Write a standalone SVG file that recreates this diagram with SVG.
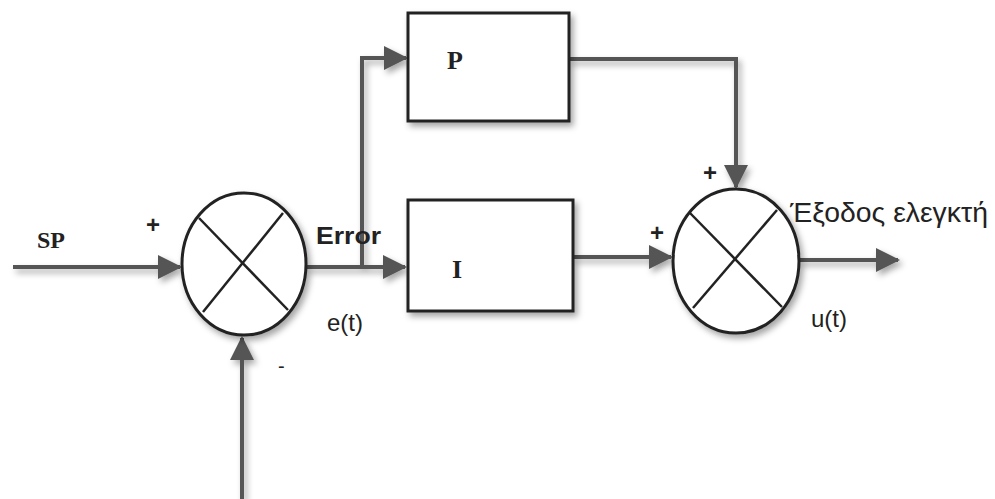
<svg xmlns="http://www.w3.org/2000/svg" width="995" height="499" viewBox="0 0 995 499">
<style>
.wire{fill:none;stroke:#555;stroke-width:4}
.box{fill:#fff;stroke:#222;stroke-width:3}
.sum{fill:#fff;stroke:#222;stroke-width:3}
.x{stroke:#222;stroke-width:2.5}
.lbl{font-family:"Liberation Serif",serif;font-weight:bold;fill:#222}
.txt{font-family:"Liberation Sans",Arial,sans-serif;fill:#222}
</style>
<defs>
<marker id="ah" markerWidth="6" markerHeight="6" refX="5.5" refY="3" orient="auto" markerUnits="strokeWidth">
<path d="M0,0 L6,3 L0,6 Z" fill="#555"/>
</marker>
<filter id="sh" x="-10%" y="-10%" width="130%" height="130%">
<feDropShadow dx="3" dy="4" stdDeviation="3" flood-color="#000" flood-opacity="0.35"/>
</filter>
</defs>
<rect width="995" height="499" fill="#fff"/>
<g id="connectors" filter="url(#sh)">
<path class="wire" d="M13,267 L180,267" marker-end="url(#ah)"/>
<path class="wire" d="M306,267 L405,267" marker-end="url(#ah)"/>
<path class="wire" d="M362,267 L362,58 L406,58" marker-end="url(#ah)"/>
<path class="wire" d="M569,59 L736,59 L736,187" marker-end="url(#ah)"/>
<path class="wire" d="M573,257 L671,257" marker-end="url(#ah)"/>
<path class="wire" d="M799,260 L898,260" marker-end="url(#ah)"/>
<path class="wire" d="M242,499 L242,338" marker-end="url(#ah)"/>
</g>
<g id="sum1">
<ellipse class="sum" cx="244" cy="264" rx="62" ry="71" filter="url(#sh)"/>
<line class="x" x1="199" y1="218" x2="288" y2="310"/>
<line class="x" x1="283" y1="213" x2="203" y2="312"/>
</g>
<g id="P">
<rect class="box" x="408" y="13" width="161" height="108" filter="url(#sh)"/>
<text class="lbl" x="447" y="69" font-size="26">P</text>
</g>
<g id="I">
<rect class="box" x="408" y="200" width="165" height="111" filter="url(#sh)"/>
<text class="lbl" x="452" y="278" font-size="26">I</text>
</g>
<g id="sum2">
<ellipse class="sum" cx="736" cy="261" rx="63" ry="72" filter="url(#sh)"/>
<line class="x" x1="690" y1="213" x2="782" y2="307"/>
<line class="x" x1="777" y1="210" x2="693" y2="308"/>
</g>
<g id="labels">
<text class="lbl" x="37" y="248" font-size="24" textLength="28" lengthAdjust="spacingAndGlyphs">SP</text>
<text class="txt" x="146" y="233" font-size="24" font-weight="bold">+</text>
<text class="txt" x="316" y="244" font-size="23" font-weight="bold" textLength="65" lengthAdjust="spacingAndGlyphs">Error</text>
<text class="txt" x="327" y="331" font-size="24">e(t)</text>
<text class="txt" x="278" y="373" font-size="20">-</text>
<text class="txt" x="703" y="181" font-size="24" font-weight="bold">+</text>
<text class="txt" x="650" y="241" font-size="24" font-weight="bold">+</text>
<text class="txt" x="790" y="222" font-size="27" textLength="198" lengthAdjust="spacingAndGlyphs">Έξοδος ελεγκτή</text>
<text class="txt" x="811" y="327" font-size="24">u(t)</text>
</g>
</svg>
